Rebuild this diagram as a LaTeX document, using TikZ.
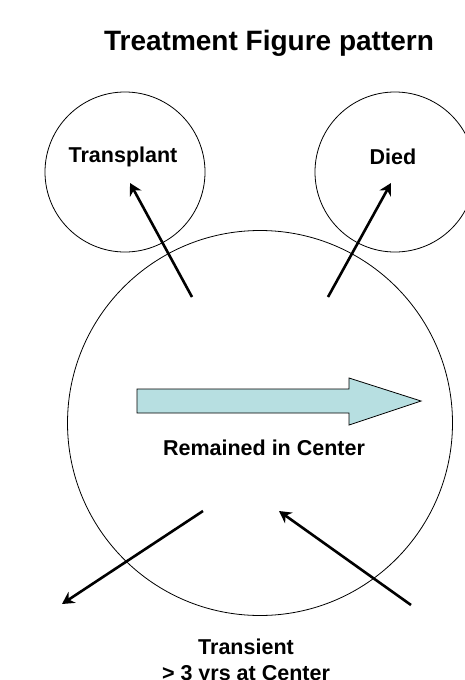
\documentclass[tikz,border=0pt]{standalone}
\usepackage{fontspec}
\setmainfont{Liberation Sans}
\usepackage{xcolor}
\usepackage{tikz}
\usetikzlibrary{arrows.meta,positioning}

\definecolor{remainblue}{HTML}{B7DFE1}

\begin{document}
\begin{tikzpicture}[
			x=1pt, y=-1pt,
			every node/.style={align=center, font=\fontsize{21.5}{26}\selectfont\bfseries},
			state/.style={circle, draw=black, line width=0.8pt, inner sep=0pt},
			flow/.style={line width=2.6pt, -{Stealth[length=12pt,width=13pt]}},
			label/.style={inner sep=0pt},
			]
			
			\clip (0,0) rectangle (465,680);
			
			\node[label, font=\fontsize{28}{34}\selectfont\bfseries] (title) at (269,43) {Treatment Figure pattern};
			
			\node[state, minimum size=160pt] (transplant) at (125,172) {};
			\node[state, minimum size=160pt] (died) at (395,172) {};
			\node[state, minimum size=385pt] (center) at (260,423) {};
			
			\node[label] (transplanttext) at (123,157) {Transplant};
			\node[label] (diedtext) at (393,157) {Died};
			\node[label] (remaintext) at (264,448) {Remained in Center};
			\node[label, anchor=north] (transtext) at (246,639) {Transient\\> 3 yrs at Center};
			
			% big stay arrow
			\draw[fill=remainblue, line width=0.8pt]
			(137,389) -- (349,389) -- (349,378) -- (421,401) -- (349,425) -- (349,413) -- (137,413) -- cycle;
			
			% outflow and inflow
			\coordinate (tpfrom) at (192,297);
			\coordinate (tpto) at (130,183);
			\coordinate (dfrom) at (328,297);
			\coordinate (dto) at (391,183);
			\coordinate (outfrom) at (203,511);
			\coordinate (outto) at (62,604);
			\coordinate (infrom) at (411,605);
			\coordinate (into) at (279,511);
			
			\draw[flow] (tpfrom) -- (tpto);
			\draw[flow] (dfrom) -- (dto);
			\draw[flow] (outfrom) -- (outto);
			\draw[flow] (infrom) -- (into);
			
		\end{tikzpicture}
\end{document}
